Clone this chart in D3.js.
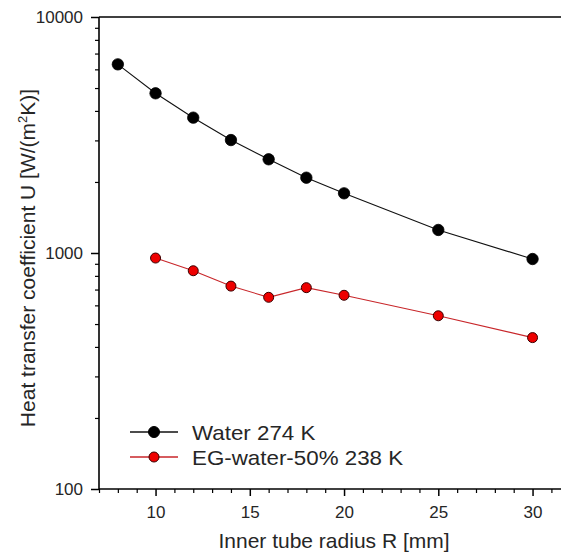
<!DOCTYPE html>
<html>
<head>
<meta charset="utf-8">
<script src="https://cdn.jsdelivr.net/npm/d3@7"></script>
<style>
  body { margin: 0; background: #fff; }
  svg { display: block; font-family: "Liberation Sans", Arial, sans-serif; }
</style>
</head>
<body>
<svg id="chart" width="561" height="553"></svg>
<script>
// ---- data ----
const radiusWater = [8, 10, 12, 14, 16, 18, 20, 25, 30];
const uWater = [6300, 4750, 3745, 3010, 2495, 2085, 1790, 1252, 943];
const radiusEG = [10, 12, 14, 16, 18, 20, 25, 30];
const uEG = [952, 841, 724, 649, 713, 662, 542, 438];
const seriesNames = ["Water 274 K", "EG-water-50% 238 K"];
const xTickLabels = [10, 15, 20, 25, 30];
const yTickLabels = [100, 1000, 10000];
const xLabel = "Inner tube radius R [mm]";

// ---- layout ----
const svg = d3.select("#chart");
const mLeft = 99, mTop = 17, mBottom = 489;
const x = d3.scaleLinear().domain([7, 32]).range([mLeft, mLeft + 25 * 18.85]);
const y = d3.scaleLog().domain([100, 10000]).range([mBottom, mTop]);
const textColor = "#262626";

// y minor ticks
const yMinor = [];
[100, 1000].forEach(d => { for (let k = 2; k <= 9; k++) yMinor.push(d * k); });
svg.append("g").attr("transform", `translate(${mLeft},0)`)
  .call(d3.axisLeft(y).tickValues(yMinor).tickSize(4).tickFormat(""))
  .call(g => g.select(".domain").remove())
  .call(g => g.selectAll("line").attr("stroke", "#000").attr("stroke-width", 1.2));
// y major
const yAxis = svg.append("g").attr("transform", `translate(${mLeft},0)`)
  .call(d3.axisLeft(y).tickValues(yTickLabels).tickSize(8).tickPadding(8).tickFormat(d3.format("d")));
yAxis.select(".domain").remove();
yAxis.selectAll("line").attr("stroke", "#000").attr("stroke-width", 1.5);
yAxis.selectAll("text").attr("font-size", 17).attr("fill", textColor)
  .attr("font-family", "Liberation Sans, Arial, sans-serif");

// x minor ticks
const xMinor = d3.range(7, 33).filter(d => d % 5 !== 0);
svg.append("g").attr("transform", `translate(0,${mBottom})`)
  .call(d3.axisBottom(x).tickValues(xMinor).tickSize(4).tickFormat(""))
  .call(g => g.select(".domain").remove())
  .call(g => g.selectAll("line").attr("stroke", "#000").attr("stroke-width", 1.2));
const xAxis = svg.append("g").attr("transform", `translate(0,${mBottom})`)
  .call(d3.axisBottom(x).tickValues(xTickLabels).tickSize(7).tickPadding(10).tickFormat(d3.format("d")));
xAxis.select(".domain").remove();
xAxis.selectAll("line").attr("stroke", "#000").attr("stroke-width", 1.5);
xAxis.selectAll("text").attr("font-size", 17).attr("fill", textColor)
  .attr("font-family", "Liberation Sans, Arial, sans-serif");

// axis lines: left, top, bottom
svg.append("line").attr("x1", mLeft).attr("x2", mLeft).attr("y1", mTop).attr("y2", mBottom)
  .attr("stroke", "#000").attr("stroke-width", 1.6);
svg.append("line").attr("x1", mLeft).attr("x2", 561).attr("y1", mTop).attr("y2", mTop)
  .attr("stroke", "#000").attr("stroke-width", 1.6);
svg.append("line").attr("x1", mLeft).attr("x2", 561).attr("y1", mBottom).attr("y2", mBottom)
  .attr("stroke", "#000").attr("stroke-width", 1.6);

// ---- series ----
const line = d3.line().x(d => x(d[0])).y(d => y(d[1]));
const water = radiusWater.map((r, i) => [r, uWater[i]]);
const eg = radiusEG.map((r, i) => [r, uEG[i]]);

svg.append("path").datum(water).attr("d", line).attr("fill", "none")
  .attr("stroke", "#111").attr("stroke-width", 1.1);
svg.append("path").datum(eg).attr("d", line).attr("fill", "none")
  .attr("stroke", "#c8262a").attr("stroke-width", 1.1);

svg.append("g").selectAll("circle").data(water).join("circle")
  .attr("cx", d => x(d[0])).attr("cy", d => y(d[1])).attr("r", 5.7)
  .attr("fill", "#000").attr("stroke", "#000").attr("stroke-width", 0.8);
svg.append("g").selectAll("circle").data(eg).join("circle")
  .attr("cx", d => x(d[0])).attr("cy", d => y(d[1])).attr("r", 5)
  .attr("fill", "#ee0000").attr("stroke", "#3a0000").attr("stroke-width", 1);

// ---- legend ----
const legendItems = [
  { name: seriesNames[0], line: "#111", fill: "#000", stroke: "#000", r: 5.5, y: 432 },
  { name: seriesNames[1], line: "#c8262a", fill: "#ee0000", stroke: "#3a0000", r: 5, y: 457 }
];
const lg = svg.append("g");
legendItems.forEach(it => {
  lg.append("line").attr("x1", 130).attr("x2", 178).attr("y1", it.y).attr("y2", it.y)
    .attr("stroke", it.line).attr("stroke-width", 1.3);
  lg.append("circle").attr("cx", 154).attr("cy", it.y).attr("r", it.r)
    .attr("fill", it.fill).attr("stroke", it.stroke).attr("stroke-width", 1);
  lg.append("text").attr("transform", `translate(192,${it.y + 7.5}) scale(1.09,1)`)
    .attr("font-size", 20.5).attr("fill", textColor).text(it.name);
});

// ---- axis titles ----
svg.append("text").attr("x", 334).attr("y", 548).attr("text-anchor", "middle")
  .attr("font-size", 21).attr("fill", textColor).text(xLabel);

const yl = svg.append("text").attr("transform", "translate(35,258) rotate(-90)")
  .attr("text-anchor", "middle").attr("font-size", 21).attr("fill", textColor);
yl.append("tspan").text("Heat transfer coefficient U [W/(m");
yl.append("tspan").attr("font-size", 13).attr("dy", -8).text("2");
yl.append("tspan").attr("dy", 8).text("K)]");
</script>
</body>
</html>
